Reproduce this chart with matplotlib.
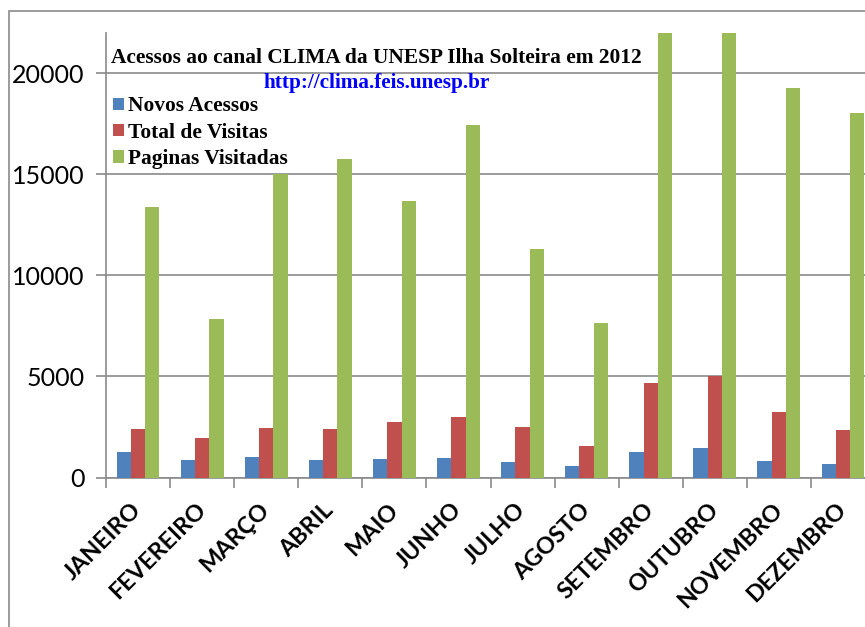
import matplotlib
matplotlib.use("Agg")
import matplotlib.pyplot as plt
import numpy as np
from matplotlib.patches import Rectangle, Patch

months = ["JANEIRO", "FEVEREIRO", "MARÇO", "ABRIL", "MAIO", "JUNHO",
          "JULHO", "AGOSTO", "SETEMBRO", "OUTUBRO", "NOVEMBRO", "DEZEMBRO"]
novos_acessos = [1260, 860, 1030, 880, 910, 960, 760, 560, 1260, 1440, 830, 650]
total_visitas = [2390, 1940, 2430, 2390, 2730, 2980, 2480, 1560, 4670, 5000, 3250, 2340]
paginas_visitadas = [13370, 7830, 15030, 15760, 13690, 17470, 11320, 7650, 22500, 23000, 19280, 18030]
series_names = ["Novos Acessos", "Total de Visitas", "Paginas Visitadas"]
colors = ["#4F81BD", "#C0504D", "#9BBB59"]
yticks = [0, 5000, 10000, 15000, 20000]
title = "Acessos ao canal CLIMA da UNESP Ilha Solteira em 2012"
url = "http://clima.feis.unesp.br"

W, H = 865, 627
fig = plt.figure(figsize=(W / 100, H / 100), dpi=100)
ax = fig.add_axes([106 / W, 1 - 477.5 / H, 769 / W, (477.5 - 33) / H])

x = np.arange(len(months))
bw = 0.223
for k, (vals, c, name) in enumerate(zip([novos_acessos, total_visitas, paginas_visitadas], colors, series_names)):
    ax.bar(x + (k - 1) * bw, vals, width=bw, color=c, label=name, zorder=3)

ax.set_xlim(-0.5, len(months) - 0.5)
ax.set_ylim(0, 22000)
ax.set_yticks(yticks)
ax.set_yticklabels([str(v) for v in yticks], fontfamily="Lato", fontsize=18)
ax.yaxis.grid(True, color="#8a8a8a", linewidth=1.2, zorder=0)
ax.set_axisbelow(True)

ax.set_xticks(np.arange(len(months) + 1) - 0.5)
ax.set_xticklabels([])
ax.set_xticks(x, minor=True)
ax.set_xticklabels(months, minor=True, rotation=45, ha="right", va="center",
                   rotation_mode="anchor", fontfamily="Lato", fontweight="bold", fontsize=16.8)
ax.tick_params(axis="x", which="minor", length=0, pad=21)
ax.tick_params(axis="x", which="major", length=7, width=1.2, color="#8a8a8a")
ax.tick_params(axis="y", length=7, width=1.2, color="#8a8a8a", pad=8.3)

for s in ["top", "right"]:
    ax.spines[s].set_visible(False)
for s in ["left", "bottom"]:
    ax.spines[s].set_color("#8a8a8a")
    ax.spines[s].set_linewidth(1.2)

# Legend
handles = [Patch(facecolor=c, edgecolor="none") for c in colors]
leg = ax.legend(handles, series_names, loc="upper left",
                bbox_to_anchor=(3 / 769, 1 - (92 - 33) / (477.5 - 33)),
                frameon=False, prop={"family": "Liberation Serif", "weight": "bold", "size": 15.4},
                handlelength=0.5, handleheight=0.5, handletextpad=0.19, labelspacing=0.3,
                borderaxespad=0.0, borderpad=0.2)

fig.text(111 / W, 1 - 58 / H, title, ha="left", va="center",
         fontfamily="Liberation Serif", fontweight="bold", fontsize=15.4)
fig.text(377 / W, 1 - 83 / H, url, ha="center", va="center", color="#0000FF",
         fontfamily="Liberation Serif", fontweight="bold", fontsize=15.3)

# outer border
fig.patches.append(Rectangle((9 / W, -0.1), 1.2, 1 - 11 / H + 0.1, transform=fig.transFigure,
                             fill=False, edgecolor="#8a8a8a", linewidth=1.2, clip_on=False))

fig.savefig("out.png", dpi=100)
